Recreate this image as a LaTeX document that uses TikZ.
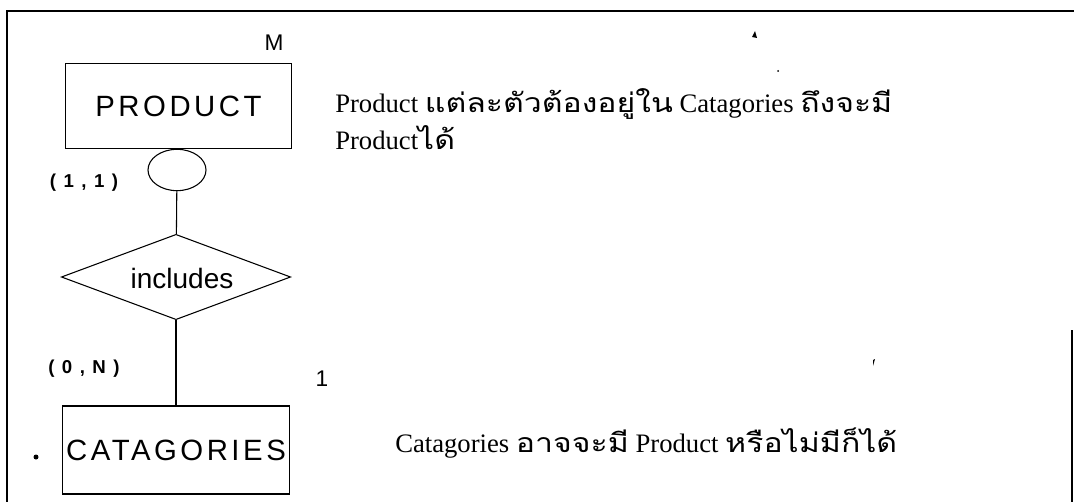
\documentclass[tikz,border=0pt]{standalone}
\usepackage{fontspec}
\setmainfont{Liberation Serif}
\setsansfont{Liberation Sans}
\newfontfamily\thaifont[Script=Thai,Scale=1.0,FakeStretch=1.2]{Loma}
\newfontfamily\entfont[LetterSpace=12]{Liberation Sans}
\newfontfamily\cardfont[LetterSpace=40]{Liberation Sans}
\usetikzlibrary{shapes.geometric}
\newcommand{\thx}[1]{{\thaifont #1}}
\tikzset{
  entity/.style={draw, line width=0.8pt, minimum width=170pt, minimum height=64pt, inner sep=0pt, font=\entfont\fontsize{22pt}{24pt}\selectfont},
  optcircle/.style={draw, line width=0.8pt, ellipse, minimum width=43.5pt, minimum height=31pt, inner sep=0pt},
  rel/.style={draw, line width=0.8pt, diamond, minimum width=172pt, minimum height=64pt, inner sep=0pt},
  reltext/.style={inner sep=0pt, font=\sffamily\fontsize{21pt}{24pt}\selectfont},
  card/.style={inner sep=0pt, font=\cardfont\bfseries\fontsize{14pt}{16pt}\selectfont},
  mult/.style={inner sep=0pt, font=\sffamily\fontsize{17pt}{19pt}\selectfont},
  note/.style={inner sep=0pt, anchor=west, font=\fontsize{20pt}{23pt}\selectfont},
  conn/.style={line width=0.8pt},
  frame/.style={line width=1.5pt}
}
\begin{document}
\begin{tikzpicture}[x=0.75pt,y=-0.75pt]
\useasboundingbox (0,0) rectangle (1074,502);
\fill[white] (0,0) rectangle (1074,502);
% frame
\draw[frame] (7,502) -- (7,11) -- (1074,11);
\draw[line width=1pt] (1072,330) -- (1072,502);
% entities
\node[entity] (prod) at (178.5,106) {PRODUCT};
\node[optcircle] (opt) at (177,170) {};
\node[rel] (inc) at (176,277) {};
\node[reltext] (inct) at (182,278) {includes};
\node[entity, minimum height=66pt] (cat) at (176,450) {CATAGORIES};
\draw[conn] (opt) -- (inc);
\draw[conn] (inc) -- (cat);
% cardinalities
\node[card] (c11) at (84,183) {(1,1)};
\node[card] (c0n) at (84,369) {(0,N)};
\node[mult] (m) at (274,43) {M};
\node[mult] (one) at (322,379) {1};
% notes
\node[note] (n1) at (335,104) {Product \thx{แต่ละตัวต้องอยู่ใน} Catagories \thx{ถึงจะมี}};
\node[note] (n2) at (335,138) {Product\thx{ได้}};
\node[note] (n3) at (395,443) {Catagories \thx{อาจจะมี} Product \thx{หรือไม่มีก็ได้}};
% scan specks
\fill (752,37) -- (755,31) -- (757,38) -- cycle;
\fill (778,71) circle (1);
\fill (873,360) -- (875,359) -- (873,366) -- cycle;
\fill (36,457) circle (2.5);
\end{tikzpicture}
\end{document}
